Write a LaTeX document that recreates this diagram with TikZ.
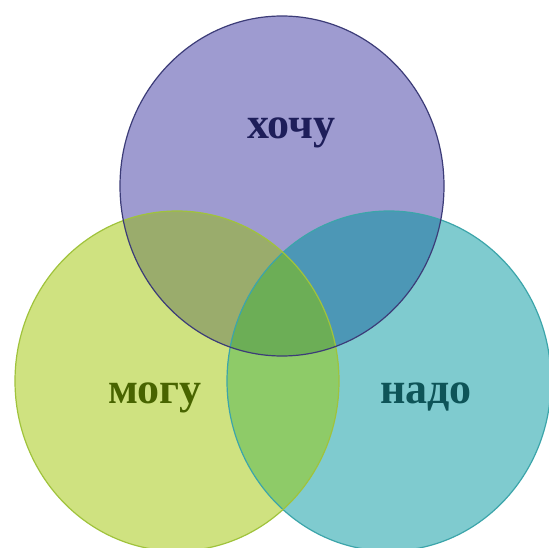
\documentclass[tikz,border=0pt]{standalone}
\usepackage{fontspec}
\setmainfont{Liberation Serif}
\definecolor{topfill}{RGB}{158,155,208}
\definecolor{leftfill}{RGB}{207,226,128}
\definecolor{rightfill}{RGB}{127,203,207}
\definecolor{tlfill}{RGB}{154,172,108}
\definecolor{trfill}{RGB}{76,151,182}
\definecolor{lrfill}{RGB}{142,203,104}
\definecolor{allfill}{RGB}{108,174,86}
\definecolor{topline}{RGB}{60,60,120}
\definecolor{leftline}{RGB}{160,195,60}
\definecolor{rightline}{RGB}{60,165,170}
\definecolor{toptext}{RGB}{30,30,90}
\definecolor{lefttext}{RGB}{72,100,0}
\definecolor{righttext}{RGB}{14,84,88}
\tikzset{
  label/.style={font=\fontsize{44}{44}\selectfont\bfseries, anchor=base, inner sep=0pt},
  rim/.style={line width=1.2pt}
}
\begin{document}
\begin{tikzpicture}[x=1pt,y=-1pt]
\useasboundingbox (0,0) rectangle (549,548);
\clip (0,0) rectangle (549,548);
\fill[white] (0,0) rectangle (549,548);
\def\topc{(282,186) ellipse [x radius=162, y radius=170]}
\def\leftc{(177,381) ellipse [x radius=162, y radius=170]}
\def\rightc{(389,381) ellipse [x radius=162, y radius=170]}
\fill[topfill] \topc;
\fill[leftfill] \leftc;
\fill[rightfill] \rightc;
\begin{scope}\clip \topc; \fill[tlfill] \leftc;\end{scope}
\begin{scope}\clip \topc; \fill[trfill] \rightc;\end{scope}
\begin{scope}\clip \leftc; \fill[lrfill] \rightc;\end{scope}
\begin{scope}\clip \topc; \clip \leftc; \fill[allfill] \rightc;\end{scope}
\draw[rim, rightline] \rightc;
\draw[rim, leftline] \leftc;
\draw[rim, topline] \topc;
\node[label, text=toptext] (want) at (291,139) {хочу};
\node[label, text=lefttext] (can) at (155,403) {могу};
\node[label, text=righttext] (must) at (426,403) {надо};
\end{tikzpicture}
\end{document}
